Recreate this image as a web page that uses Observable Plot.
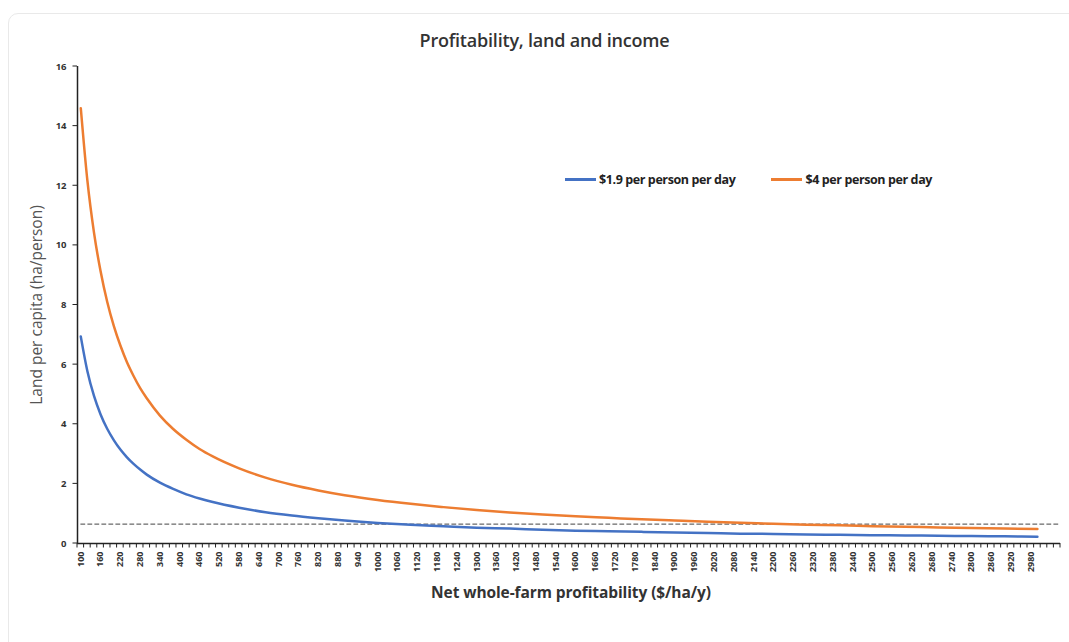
<!DOCTYPE html>
<html>
<head>
<meta charset="utf-8">
<script src="https://cdn.jsdelivr.net/npm/d3@7"></script>
<script src="https://cdn.jsdelivr.net/npm/@observablehq/plot@0.6"></script>
<style>
  html, body { margin: 0; padding: 0; background: #fff; }
  #wrap { position: relative; width: 1069px; height: 642px; overflow: hidden; font-family: "Open Sans", sans-serif; }
  #frame { position: absolute; left: 8px; top: 13px; width: 1100px; height: 700px; border: 1px solid #e9e9e9; border-radius: 10px; box-sizing: border-box; }
  #title { position: relative; height: 56px; text-align: center; padding-left: 20px; box-sizing: border-box; }
  #title span { display: inline-block; margin-top: 31px; font-size: 18px; font-weight: 600; color: #333; line-height: 1; letter-spacing: -0.2px; }
  #chart { position: relative; }
  #legend { position: absolute; top: 171px; left: 565px; display: flex; align-items: center; font-size: 12.5px; font-weight: 700; color: #222; letter-spacing: -0.4px; }
  .item { display: flex; align-items: center; margin-right: 36px; }
  .sw { display: inline-block; width: 31px; height: 2.5px; margin-right: 3px; }
  #xlabel { position: absolute; top: 581px; left: 0; width: 1142px; text-align: center; font-size: 15.5px; font-weight: 700; color: #333; letter-spacing: -0.1px; }
</style>
</head>
<body>
<div id="wrap">
  <div id="frame"></div>
  <div id="title"><span>Profitability, land and income</span></div>
  <div id="chart"></div>
  <div id="legend"></div>
  <div id="xlabel">Net whole-farm profitability ($/ha/y)</div>
</div>
<script>
// ---- data ----
const profitability = [100,120,140,160,180,200,220,240,260,280,300,340,380,420,460,500,580,660,740,820,900,1000,1100,1200,1300,1400,1500,1600,1700,1800,1900,2000,2100,2200,2300,2400,2500,2600,2700,2800,2900,3000];
const land19 = [6.94,5.78,4.95,4.33,3.85,3.47,3.15,2.89,2.67,2.48,2.31,2.04,1.83,1.65,1.51,1.39,1.20,1.05,0.94,0.85,0.77,0.69,0.63,0.58,0.53,0.50,0.46,0.43,0.41,0.39,0.37,0.35,0.33,0.32,0.30,0.29,0.28,0.27,0.26,0.25,0.24,0.23];
const land4 = [14.60,12.17,10.43,9.13,8.11,7.30,6.64,6.08,5.62,5.21,4.87,4.29,3.84,3.48,3.17,2.92,2.52,2.21,1.97,1.78,1.62,1.46,1.33,1.22,1.12,1.04,0.97,0.91,0.86,0.81,0.77,0.73,0.70,0.66,0.63,0.61,0.58,0.56,0.54,0.52,0.50,0.49];
const refX = [100, 3070];
const refY = [0.65, 0.65];
const seriesNames = ["$1.9 per person per day", "$4 per person per day"];
const seriesColors = ["#4472C4", "#ED7D31"];
const yTicks = [0,2,4,6,8,10,12,14,16];
const xTickLabels = [100,160,220,280,340,400,460,520,580,640,700,760,820,880,940,1000,1060,1120,1180,1240,1300,1360,1420,1480,1540,1600,1660,1720,1780,1840,1900,1960,2020,2080,2140,2200,2260,2320,2380,2440,2500,2560,2620,2680,2740,2800,2860,2920,2980];
const xDomain = [90, 3070];

// ---- build tables ----
const rows = [];
profitability.forEach((p, i) => {
  rows.push({x: p, y: land19[i], s: seriesNames[0]});
  rows.push({x: p, y: land4[i], s: seriesNames[1]});
});
const refRows = refX.map((x, i) => ({x, y: refY[i]}));
const minorTicks = d3.range(xDomain[0], xDomain[1] + 1, 20);

const plot = Plot.plot({
  width: 1069,
  height: 586,
  marginLeft: 77,
  marginRight: 9,
  marginTop: 10,
  marginBottom: 99,
  style: {fontFamily: "Open Sans, sans-serif", color: "#333", background: "transparent"},
  x: {type: "linear", domain: xDomain},
  y: {domain: [0, 16]},
  color: {domain: seriesNames, range: seriesColors},
  marks: [
    Plot.axisY(yTicks, {tickSize: 0, tickPadding: 11, fontSize: 9.5, fontWeight: "bold",
      label: "Land per capita (ha/person)", labelAnchor: "center", labelArrow: "none", labelOffset: 47}),
    Plot.axisX(xTickLabels, {tickSize: 0, tickPadding: 8, tickRotate: -90, fontSize: 9, fontWeight: "bold", label: null, tickFormat: d => String(d)}),
    Plot.line(refRows, {x: "x", y: "y", stroke: "#444", strokeWidth: 1, strokeDasharray: "4,3"}),
    Plot.line(rows, {x: "x", y: "y", stroke: "s", z: "s", strokeWidth: 2.5, curve: "monotone-x"}),
    Plot.ruleY([0], {stroke: "#222", strokeWidth: 1.5}),
    Plot.ruleX([xDomain[0]], {y1: 0, y2: 16, stroke: "#222", strokeWidth: 1.5})
  ]
});
// adjust y-axis label style
plot.querySelectorAll("g[aria-label='y-axis label'] text").forEach(t => {
  t.setAttribute("font-size", "15.5");
  t.setAttribute("font-weight", "normal");
  t.setAttribute("fill", "#555");
});

// tick marks drawn through the plot's own scales
const sx = plot.scale("x"), sy = plot.scale("y");
const svg = d3.select(plot.tagName.toLowerCase() === "svg" ? plot : plot.querySelector("svg"));
const y0 = sy.apply(0), x0 = sx.apply(xDomain[0]);
const tg = svg.append("g").attr("stroke", "#222").attr("stroke-width", 1);
tg.selectAll("line.mx").data(minorTicks).join("line")
  .attr("x1", d => sx.apply(d)).attr("x2", d => sx.apply(d))
  .attr("y1", y0).attr("y2", y0 + 4.5);
tg.selectAll("line.my").data(yTicks).join("line")
  .attr("x1", x0 - 4.5).attr("x2", x0)
  .attr("y1", d => sy.apply(d)).attr("y2", d => sy.apply(d));

document.getElementById("chart").appendChild(plot);

const legend = document.getElementById("legend");
seriesNames.forEach((n, i) => {
  const it = document.createElement("div");
  it.className = "item";
  const sw = document.createElement("span");
  sw.className = "sw";
  sw.style.background = seriesColors[i];
  const tx = document.createElement("span");
  tx.textContent = n;
  it.appendChild(sw); it.appendChild(tx);
  legend.appendChild(it);
});
</script>
</body>
</html>
